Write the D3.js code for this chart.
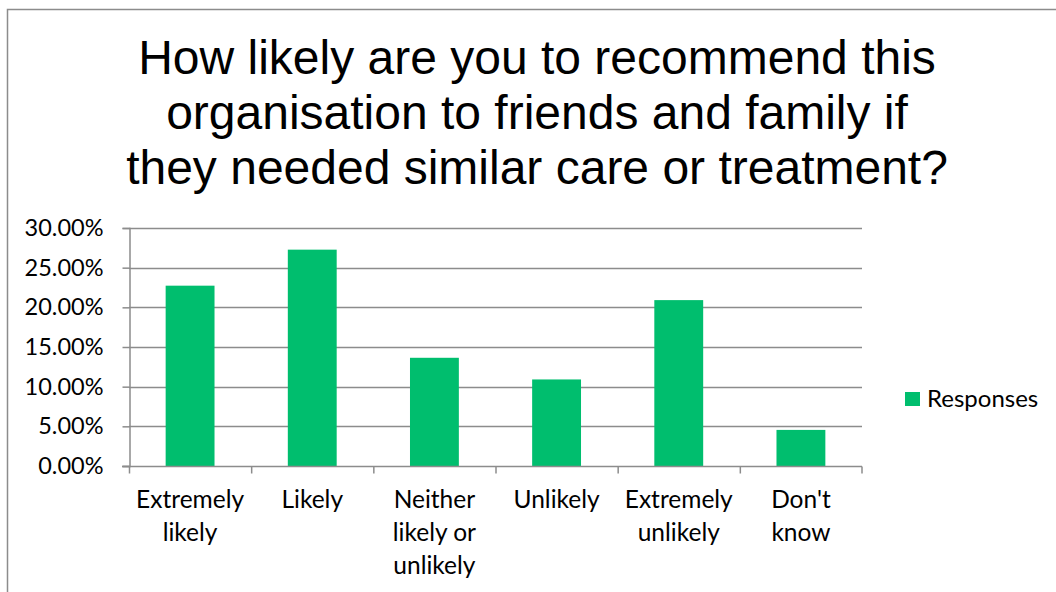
<!DOCTYPE html>
<html>
<head>
<meta charset="utf-8">
<script src="https://cdn.jsdelivr.net/npm/d3@7"></script>
<style>
  html, body { margin: 0; padding: 0; background: #fff; }
  svg { display: block; }
</style>
</head>
<body>
<svg id="chart" width="1056" height="592"></svg>
<script>
// Survey responses (share of respondents)
const categories = [
  ["Extremely", "likely"],
  ["Likely"],
  ["Neither", "likely or", "unlikely"],
  ["Unlikely"],
  ["Extremely", "unlikely"],
  ["Don't", "know"]
];
const responses = [0.2273, 0.2727, 0.1364, 0.1091, 0.2091, 0.0455];
const yTicks = [0, 0.05, 0.10, 0.15, 0.20, 0.25, 0.30];
const titleLines = [
  "How likely are you to recommend this",
  "organisation to friends and family if",
  "they needed similar care or treatment?"
];
const seriesName = "Responses";

const svg = d3.select("#chart");
const barColor = "#00be6e";
const gridColor = "#8c8c8c";
const labelFont = "Lato, 'Open Sans', sans-serif";

// outer chart frame
svg.append("rect")
  .attr("x", 7.5).attr("y", 9.5)
  .attr("width", 1060).attr("height", 600)
  .attr("fill", "none").attr("stroke", "#8c8c8c").attr("stroke-width", 1.5);

// title
const title = svg.append("g");
titleLines.forEach((t, i) => {
  title.append("text")
    .attr("x", 537).attr("y", 74 + i * 55)
    .attr("text-anchor", "middle")
    .attr("font-family", "'Liberation Sans', Arial, sans-serif")
    .attr("font-size", 48)
    .attr("fill", "#000")
    .text(t);
});

const plot = { left: 129, right: 862, top: 228, bottom: 466 };

const x = d3.scaleBand()
  .domain(d3.range(categories.length))
  .range([plot.left, plot.right])
  .padding(0);
const y = d3.scaleLinear().domain([0, 0.30]).range([plot.bottom, plot.top]);

// horizontal gridlines
svg.append("g").selectAll("line")
  .data(yTicks.slice(1))
  .join("line")
  .attr("x1", plot.left).attr("x2", plot.right)
  .attr("y1", d => Math.round(y(d)) + 0.5).attr("y2", d => Math.round(y(d)) + 0.5)
  .attr("stroke", gridColor).attr("stroke-width", 1.5);

// bars (Excel-style gap width 150%)
const barW = x.bandwidth() / 2.5;
svg.append("g").selectAll("rect")
  .data(responses)
  .join("rect")
  .attr("x", (d, i) => x(i) + (x.bandwidth() - barW) / 2)
  .attr("width", barW)
  .attr("y", d => y(d))
  .attr("height", d => plot.bottom - y(d))
  .attr("fill", barColor);

// y axis
const yAxis = svg.append("g")
  .attr("transform", `translate(${plot.left + 0.5},0)`)
  .call(d3.axisLeft(y).tickValues(yTicks).tickSize(7).tickPadding(19)
    .tickFormat(d => d3.format(".2f")(d * 100) + "%"));
yAxis.select(".domain").attr("stroke", gridColor).attr("stroke-width", 1.5);
yAxis.selectAll(".tick line").attr("stroke", gridColor).attr("stroke-width", 1.5);
yAxis.selectAll(".tick text")
  .attr("font-family", labelFont).attr("font-size", 23.5).attr("fill", "#000");

// x axis with ticks at category boundaries
const xAxisG = svg.append("g").attr("transform", `translate(0,${plot.bottom + 0.5})`);
xAxisG.append("line")
  .attr("x1", plot.left - 7).attr("x2", plot.right)
  .attr("stroke", gridColor).attr("stroke-width", 1.5);
xAxisG.selectAll("line.tk")
  .data(d3.range(categories.length + 1))
  .join("line").attr("class", "tk")
  .attr("x1", i => i < categories.length ? x(i) + 0.5 : plot.right)
  .attr("x2", i => i < categories.length ? x(i) + 0.5 : plot.right)
  .attr("y1", 0).attr("y2", 7)
  .attr("stroke", gridColor).attr("stroke-width", 1.5);

const xLabels = svg.append("g");
categories.forEach((lines, i) => {
  const t = xLabels.append("text")
    .attr("x", x(i) + x.bandwidth() / 2)
    .attr("y", 508)
    .attr("text-anchor", "middle")
    .attr("font-family", labelFont).attr("font-size", 24.5).attr("fill", "#000");
  lines.forEach((ln, j) => {
    t.append("tspan").attr("x", x(i) + x.bandwidth() / 2).attr("dy", j === 0 ? 0 : 33).text(ln);
  });
});

// legend
const legend = svg.append("g").attr("transform", "translate(905,392)");
legend.append("rect").attr("width", 15).attr("height", 14).attr("fill", barColor);
legend.append("text")
  .attr("x", 22).attr("y", 15)
  .attr("font-family", labelFont).attr("font-size", 24).attr("fill", "#000")
  .text(seriesName);
</script>
</body>
</html>
